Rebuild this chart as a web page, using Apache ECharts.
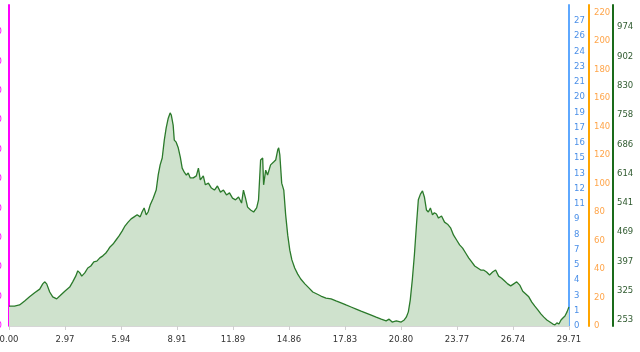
<!DOCTYPE html>
<html><head><meta charset="utf-8">
<script src="https://cdn.jsdelivr.net/npm/echarts@6/dist/echarts.min.js"></script>
<style>html,body{margin:0;padding:0;background:#fff}#c{width:640px;height:352px}</style>
</head><body><div id="c"></div>
<script>
// distance (km)
const distance = [0.00,0.29,0.56,0.83,1.09,1.36,1.63,1.79,1.89,2.00,2.16,2.32,2.53,2.69,2.96,3.22,3.38,3.54,3.65,3.76,3.86,4.02,4.18,4.34,4.50,4.66,4.82,4.98,5.14,5.25,5.36,5.52,5.68,5.84,6.00,6.16,6.32,6.48,6.64,6.80,6.96,7.06,7.17,7.28,7.38,7.49,7.65,7.81,7.92,8.02,8.13,8.24,8.34,8.45,8.55,8.61,8.71,8.77,8.87,8.98,9.09,9.19,9.30,9.41,9.51,9.62,9.78,9.94,10.05,10.15,10.31,10.42,10.58,10.74,10.90,11.06,11.22,11.38,11.54,11.70,11.86,12.02,12.18,12.34,12.44,12.55,12.66,12.82,12.98,13.14,13.24,13.35,13.46,13.51,13.62,13.72,13.88,14.04,14.15,14.26,14.31,14.37,14.47,14.58,14.68,14.79,14.90,15.01,15.16,15.32,15.48,15.70,15.91,16.12,16.34,16.55,16.82,17.09,17.35,17.62,17.88,18.15,18.42,18.68,18.95,19.22,19.48,19.75,20.01,20.17,20.33,20.55,20.81,20.97,21.08,21.19,21.29,21.40,21.51,21.62,21.72,21.83,21.94,22.04,22.15,22.25,22.36,22.47,22.57,22.68,22.79,22.95,23.11,23.27,23.43,23.59,23.75,23.91,24.07,24.23,24.39,24.55,24.71,24.87,25.03,25.18,25.34,25.50,25.66,25.82,25.98,26.14,26.30,26.46,26.62,26.78,26.94,27.10,27.26,27.42,27.58,27.74,27.90,28.06,28.22,28.38,28.54,28.70,28.86,28.97,29.07,29.18,29.29,29.39,29.50,29.61,29.71];
// elevation (m)
const elevation = [287,287,290,300,310,320,329,342,347,342,322,310,305,312,324,334,347,361,374,369,361,369,381,386,396,398,406,411,418,425,433,440,450,460,472,485,494,502,507,512,507,519,529,512,519,536,553,573,611,635,652,696,726,750,763,758,733,696,691,677,654,627,617,610,615,603,603,608,627,598,608,586,590,578,573,583,568,573,561,566,553,549,556,541,573,553,531,524,519,529,549,647,652,586,622,610,635,642,647,672,677,660,590,573,512,462,425,401,381,366,354,342,332,322,317,312,307,305,300,295,290,285,280,275,270,265,260,255,251,255,248,251,248,253,260,273,302,352,413,487,549,563,571,556,524,519,529,512,517,514,504,509,494,489,480,462,450,438,430,418,406,396,386,381,376,376,371,364,371,376,361,356,349,342,337,342,347,339,324,317,310,297,287,278,268,260,253,248,243,241,246,243,253,258,263,273,285];

const xMax = 29.714, xStep = 2.9714;
const blueLabels = [0,1,3,4,5,7,8,9,11,12,13,15,16,17,19,20,21,23,24,26,27];
const blueStep = 1.343, blueMax = 28.27;
const orangeLabels = [0,20,40,60,80,100,120,140,160,180,200,220];
const orangeMax = 225.3;
const greenLabels = [253,325,397,469,541,614,686,758,830,902,974];
const greenStep = 72.1, greenMin = 238.2, greenMax = 1028.8;
const magentaLabels = [0,10,20,30,40,50,60,70,80,90,100];
const magentaMax = 109.2;

const FONT = 'DejaVu Sans';
const chart = echarts.init(document.getElementById('c'), null, {renderer:'canvas'});
const blueVals = blueLabels.map((_, i) => i * blueStep);
const greenVals = greenLabels.map((_, i) => greenLabels[0] + i * greenStep);

chart.setOption({
  animation: false,
  grid: {left: 9, right: 71, top: 5, bottom: 26, containLabel: false, outerBoundsMode: 'none'},
  xAxis: {
    type: 'value', min: 0, max: xMax, interval: xStep,
    axisLine: {show: true, lineStyle: {color: '#d6d6d6', width: 1}},
    axisTick: {show: true, length: 4, lineStyle: {color: '#cfcfcf'}},
    axisLabel: {color: '#333', fontFamily: FONT, fontSize: 8.5, margin: 9,
      formatter: v => v.toFixed(2)},
    splitLine: {show: false}
  },
  yAxis: [
    { // magenta left
      type: 'value', position: 'left', min: 0, max: magentaMax,
      axisLine: {show: true, lineStyle: {color: '#ff00ff', width: 2}},
      axisTick: {show: false},
      axisLabel: {color: '#ff00ff', fontFamily: FONT, fontSize: 8.5, margin: 7,
        customValues: magentaLabels},
      splitLine: {show: false}
    },
    { // blue
      type: 'value', position: 'right', offset: 0, min: 0, max: blueMax,
      axisLine: {show: true, lineStyle: {color: '#5ea8ff', width: 2}},
      axisTick: {show: false},
      axisLabel: {color: '#4a8fe8', fontFamily: FONT, fontSize: 8.5, margin: 5,
        customValues: blueVals,
        formatter: v => String(blueLabels[Math.round(v / blueStep)])},
      splitLine: {show: false}
    },
    { // orange
      type: 'value', position: 'right', offset: 20, min: 0, max: orangeMax,
      axisLine: {show: true, lineStyle: {color: '#ffa500', width: 2}},
      axisTick: {show: false},
      axisLabel: {color: '#ffa54a', fontFamily: FONT, fontSize: 8.5, margin: 5,
        customValues: orangeLabels},
      splitLine: {show: false}
    },
    { // green
      type: 'value', position: 'right', offset: 44, min: greenMin, max: greenMax,
      axisLine: {show: true, lineStyle: {color: '#1a6b1a', width: 2}},
      axisTick: {show: false},
      axisLabel: {color: '#2f5a2f', fontFamily: FONT, fontSize: 8.5, margin: 4,
        customValues: greenVals,
        formatter: v => String(greenLabels[Math.round((v - greenLabels[0]) / greenStep)])},
      splitLine: {show: false}
    }
  ],
  series: [{
    type: 'line', yAxisIndex: 3, showSymbol: false, smooth: false,
    data: distance.map((d, i) => [d, elevation[i]]),
    lineStyle: {color: '#2b7a2b', width: 1.3},
    areaStyle: {color: '#cfe2cd', opacity: 1},
    z: 1
  }]
});
</script></body></html>
